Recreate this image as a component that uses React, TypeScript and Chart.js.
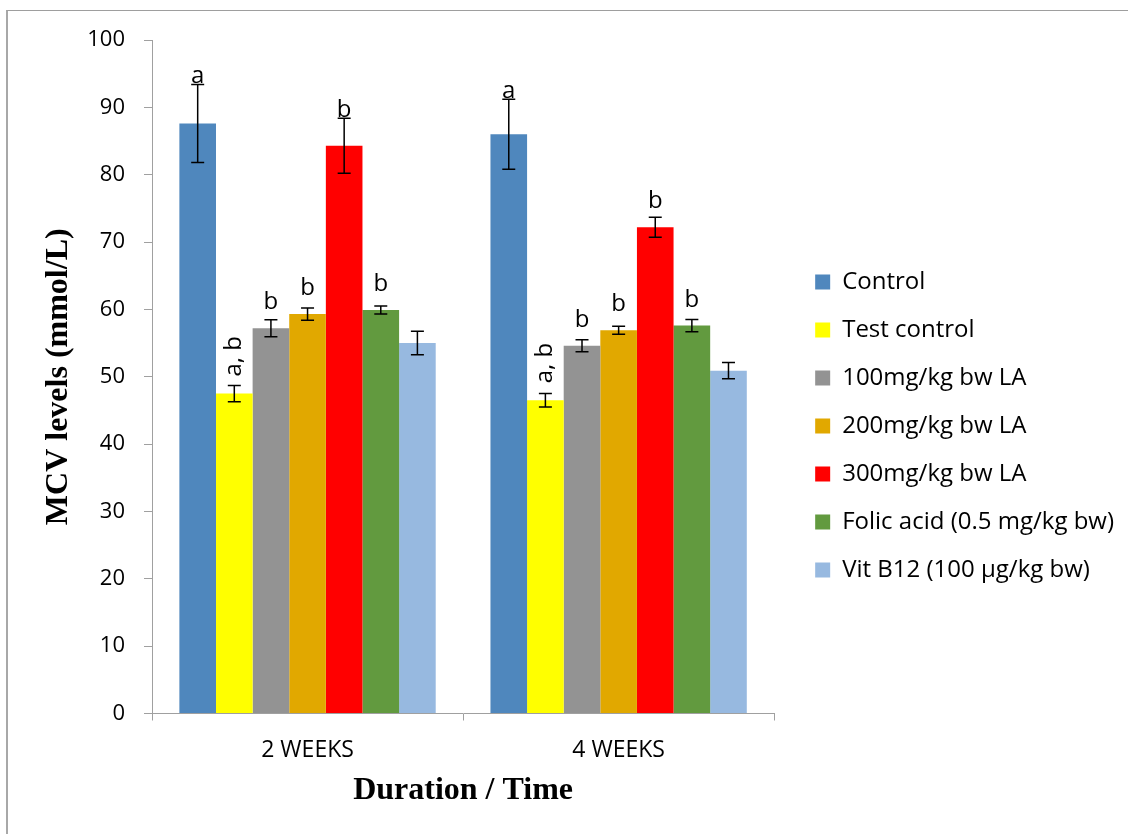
import React, { useEffect, useRef } from "react";
import { Chart, registerables } from "chart.js";

Chart.register(...registerables);

// Groups along the x axis
const categories = ["2 WEEKS", "4 WEEKS"];

// Treatment groups (legend order)
const groupNames = [
  "Control",
  "Test control",
  "100mg/kg bw LA",
  "200mg/kg bw LA",
  "300mg/kg bw LA",
  "Folic acid (0.5 mg/kg bw)",
  "Vit B12 (100 µg/kg bw)",
];

// Mean MCV per group, [2 weeks, 4 weeks]
const controlMean = [87.6, 86.0];
const testControlMean = [47.5, 46.5];
const la100Mean = [57.2, 54.6];
const la200Mean = [59.3, 56.9];
const la300Mean = [84.3, 72.2];
const folicMean = [59.9, 57.6];
const vitB12Mean = [55.0, 50.9];

// Standard error per group, [2 weeks, 4 weeks]
const controlErr = [5.8, 5.2];
const testControlErr = [1.2, 1.0];
const la100Err = [1.25, 0.9];
const la200Err = [0.9, 0.6];
const la300Err = [4.1, 1.5];
const folicErr = [0.6, 0.9];
const vitB12Err = [1.75, 1.2];

// Significance letters per group, [2 weeks, 4 weeks]
const controlSig = ["a", "a"];
const testControlSig = ["a, b", "a, b"];
const la100Sig = ["b", "b"];
const la200Sig = ["b", "b"];
const la300Sig = ["b", "b"];
const folicSig = ["b", "b"];
const vitB12Sig = ["", ""];

// Y axis range
const yMin = 0;
const yMax = 100;
const yStep = 10;

const means = [controlMean, testControlMean, la100Mean, la200Mean, la300Mean, folicMean, vitB12Mean];
const errors = [controlErr, testControlErr, la100Err, la200Err, la300Err, folicErr, vitB12Err];
const letters = [controlSig, testControlSig, la100Sig, la200Sig, la300Sig, folicSig, vitB12Sig];

const colors = ["#4F87BD", "#FFFF00", "#939393", "#E1A800", "#FF0000", "#629A3F", "#97B9E0"];

const SANS = "'Open Sans', 'Liberation Sans', sans-serif";
const SERIF = "'Liberation Serif', 'DejaVu Serif', serif";

// Draws error bars and the significance letters above each bar
const errorBarPlugin = {
  id: "errorBars",
  afterDatasetsDraw(chart: any) {
    const { ctx } = chart;
    const yScale = chart.scales.y;
    ctx.save();
    chart.data.datasets.forEach((ds: any, i: number) => {
      const meta = chart.getDatasetMeta(i);
      meta.data.forEach((bar: any, j: number) => {
        const v = ds.data[j];
        const e = errors[i][j];
        const x = bar.x;
        const yTop = yScale.getPixelForValue(v + e);
        const yBot = yScale.getPixelForValue(v - e);
        const cap = 6.5;
        ctx.strokeStyle = "#000";
        ctx.lineWidth = 1.5;
        ctx.beginPath();
        ctx.moveTo(x, yTop);
        ctx.lineTo(x, yBot);
        ctx.moveTo(x - cap, yTop);
        ctx.lineTo(x + cap, yTop);
        ctx.moveTo(x - cap, yBot);
        ctx.lineTo(x + cap, yBot);
        ctx.stroke();

        const txt = letters[i][j];
        if (!txt) return;
        const barTop = yScale.getPixelForValue(v);
        ctx.fillStyle = "#000";
        ctx.font = `24px ${SANS}`;
        if (txt.includes(",")) {
          ctx.save();
          ctx.translate(x, barTop - 17);
          ctx.rotate(-Math.PI / 2);
          ctx.textAlign = "left";
          ctx.textBaseline = "middle";
          ctx.fillText(txt, 0, 0);
          ctx.restore();
        } else {
          const lift = Math.max(19, barTop - yTop + 1);
          ctx.textAlign = "center";
          ctx.textBaseline = "alphabetic";
          ctx.fillText(txt, x, barTop - lift);
        }
      });
    });
    ctx.restore();
  },
};

export default function App() {
  const canvasRef = useRef<HTMLCanvasElement | null>(null);

  useEffect(() => {
    if (!canvasRef.current) return;
    const chart = new Chart(canvasRef.current, {
      type: "bar",
      data: {
        labels: categories,
        datasets: groupNames.map((name, i) => ({
          label: name,
          data: means[i],
          backgroundColor: colors[i],
          borderWidth: 0,
          categoryPercentage: 0.824,
          barPercentage: 1.0,
        })),
      },
      options: {
        responsive: false,
        animation: false,
        devicePixelRatio: 1,
        layout: { padding: { top: 40, left: 30, right: 4, bottom: 22 } },
        plugins: {
          tooltip: { enabled: false },
          legend: {
            position: "right",
            align: "center",
            maxWidth: 420,
            labels: {
              boxWidth: 15,
              boxHeight: 15,
              padding: 24,
              color: "#000",
              font: { family: SANS, size: 24 },
            },
          },
        },
        scales: {
          x: {
            grid: {
              display: true,
              drawOnChartArea: false,
              drawTicks: true,
              tickLength: 7,
              color: "#A0A0A0",
              offset: true,
            },
            border: { display: true, color: "#A0A0A0", width: 1 },
            ticks: { color: "#000", padding: 16, font: { family: SANS, size: 23 } },
            title: {
              display: true,
              text: "Duration / Time",
              color: "#000",
              font: { family: SERIF, size: 32, weight: "bold" },
              padding: { top: 0, bottom: 2 },
            },
            afterFit: (s: any) => {
              s.height = 98.5;
            },
          },
          y: {
            min: yMin,
            max: yMax,
            ticks: {
              stepSize: yStep,
              color: "#000",
              padding: 19,
              font: { family: SANS, size: 22 },
            },
            grid: {
              display: true,
              drawOnChartArea: false,
              drawTicks: true,
              tickLength: 8,
              color: "#A0A0A0",
            },
            border: { display: true, color: "#A0A0A0", width: 1 },
            title: {
              display: true,
              text: "MCV levels (mmol/L)",
              color: "#000",
              font: { family: SERIF, size: 32, weight: "bold" },
              padding: { top: 10, bottom: 0 },
            },
            afterFit: (s: any) => {
              s.width = 122;
            },
          },
          gap: {
            type: "linear",
            position: "right",
            display: true,
            grid: { display: false, drawTicks: false },
            border: { display: false },
            ticks: { display: false },
            afterFit: (s: any) => {
              s.width = 17;
            },
          },
        },
      } as any,
      plugins: [errorBarPlugin],
    });
    return () => chart.destroy();
  }, []);

  return (
    <div
      style={{
        position: "absolute",
        left: 0,
        top: 0,
        width: 1128,
        height: 834,
        overflow: "hidden",
        background: "#fff",
      }}
    >
      <canvas ref={canvasRef} width={1128} height={834} style={{ display: "block" }} />
      <div
        style={{
          position: "absolute",
          left: 6,
          top: 10,
          width: 1200,
          height: 900,
          borderTop: "1px solid #9E9E9E",
          borderLeft: "2px solid #A8A8A8",
          pointerEvents: "none",
        }}
      />
    </div>
  );
}
